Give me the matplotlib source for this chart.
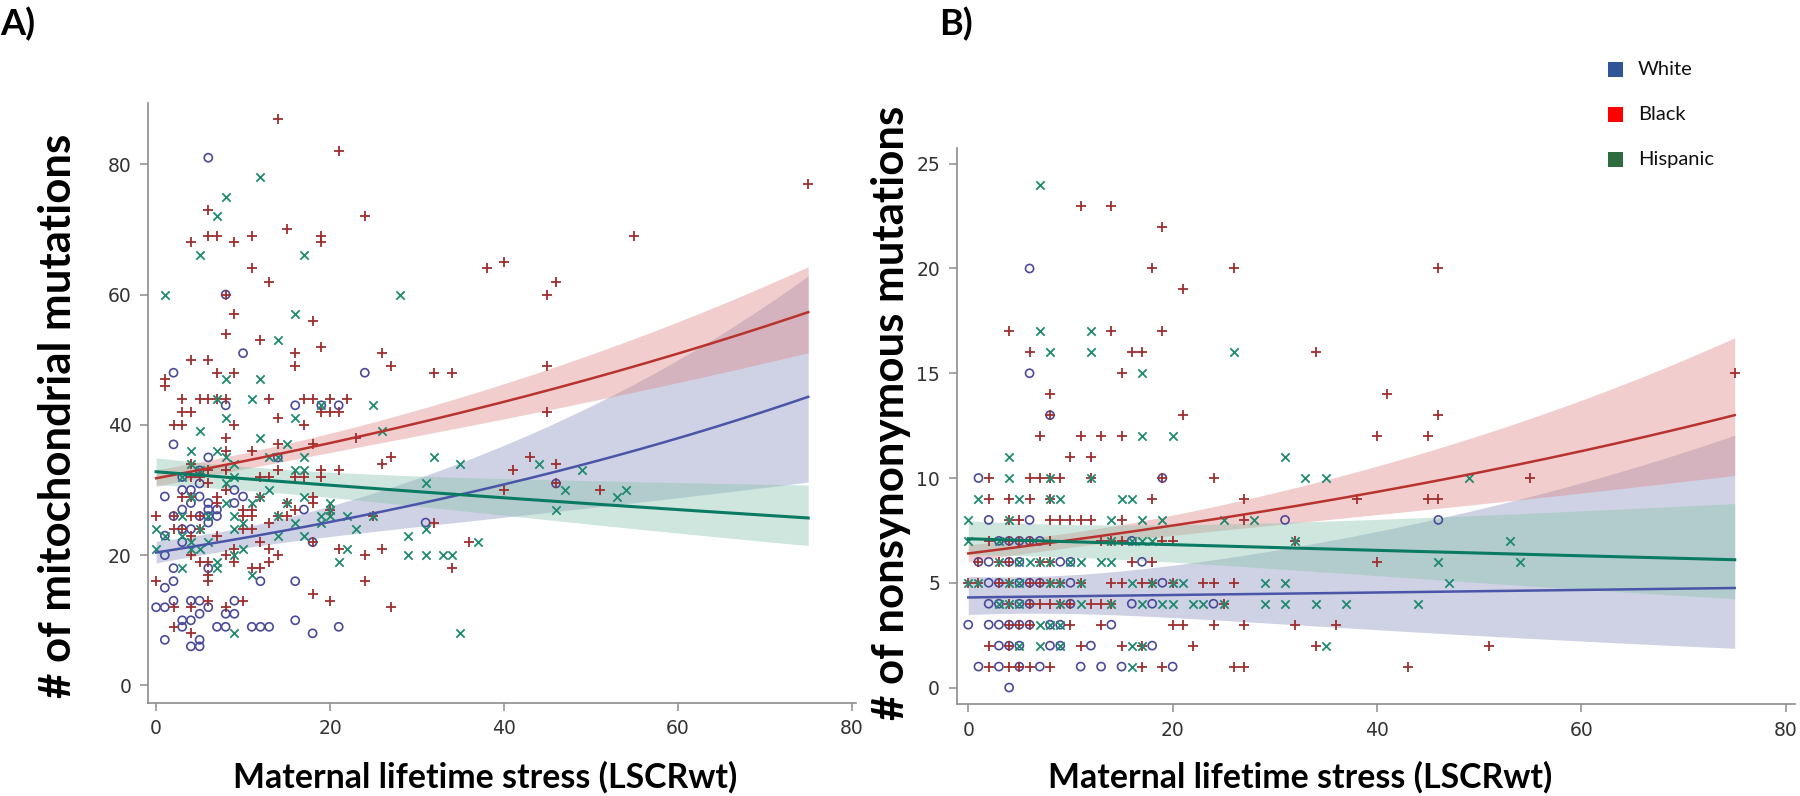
import numpy as np
import matplotlib
matplotlib.use("Agg")
import matplotlib.pyplot as plt
from matplotlib.patches import Rectangle
from matplotlib import font_manager

# ---------------- data: panel A (# of mitochondrial mutations) ----------------
a_white_x = [6, 2, 10, 24, 8, 8, 16, 19, 21, 2, 6, 14, 5, 3, 5, 3, 4, 9, 1, 5, 10, 4, 6, 9, 3, 6, 7, 17,
             2, 5, 6, 7, 6, 3, 4, 1, 3, 18, 1, 2, 6, 2, 12, 16, 1, 2, 4, 5, 9, 0, 1, 6, 5, 8, 9, 3, 4, 16,
             3, 7, 8, 11, 12, 13, 21, 18, 1, 5, 4, 5, 46, 31]
a_white_y = [81, 48, 51, 48, 60, 43, 43, 43, 43, 37, 35, 35, 33, 32, 31, 30, 30, 30, 29, 29, 29, 28, 28, 28,
             27, 27, 27, 27, 26, 26, 26, 26, 25, 24, 24, 23, 22, 22, 20, 18, 18, 16, 16, 16, 15, 13, 13, 13,
             13, 12, 12, 12, 11, 11, 11, 10, 10, 10, 9, 9, 9, 9, 9, 9, 9, 8, 7, 7, 6, 6, 31, 25]

a_black_x = [14, 21, 75, 6, 24, 6, 7, 11, 15, 19, 19, 4, 9, 55, 11, 13, 38, 40, 46, 45, 8, 9, 18, 8, 12,
             16, 16, 19, 26, 27, 4, 6, 45, 1, 1, 7, 9, 32, 34,
             3, 5, 6, 7, 8, 13, 17, 18, 20, 22,
             3, 4, 19, 20, 21, 14, 2, 3, 9, 17, 8, 23, 14, 18, 11, 8, 27, 26, 4, 8, 14, 19, 21, 6, 4, 12,
             13, 16, 17, 19, 5, 6, 8, 3, 4, 12, 18, 7, 7, 15, 18, 10, 11, 16, 20, 0, 2, 4, 5, 10, 11, 14,
             15, 25, 13, 2, 3, 5, 10, 11, 4, 7, 12, 18, 9, 13, 21, 26, 4, 8, 14, 24, 5, 6, 9, 13, 11, 12,
             6, 0, 6, 24, 18, 6, 10, 20, 2, 4, 8, 27, 2, 4,
             43, 41, 46, 40, 46, 51, 32, 36, 34, 45]
a_black_y = [87, 82, 77, 73, 72, 69, 69, 69, 70, 69, 68, 68, 68, 69, 64, 62, 64, 65, 62, 60, 60, 57, 56, 54,
             53, 51, 49, 52, 51, 49, 50, 50, 49, 47, 46, 48, 48, 48, 48,
             44, 44, 44, 44, 44, 44, 44, 44, 44, 44,
             42, 42, 42, 42, 42, 41, 40, 40, 40, 40, 38, 38, 37, 37, 36, 36, 35, 34, 34, 33, 33, 33, 33,
             33, 32, 32, 32, 32, 32, 32, 32, 31, 30, 29, 29, 29, 29, 29, 28, 28, 28, 27, 27, 27, 27, 26,
             26, 26, 26, 26, 26, 26, 26, 26, 25, 24, 24, 24, 24, 24, 23, 23, 22, 22, 21, 21, 21, 21, 20,
             20, 20, 20, 19, 19, 19, 19, 18, 18, 17, 16, 16, 16, 14, 13, 13, 13, 12, 12, 12, 12, 9, 8,
             35, 33, 34, 30, 31, 30, 25, 22, 18, 42]

a_hisp_x = [12, 8, 7, 5, 17, 1, 28, 16, 14, 8, 12, 7, 11, 19, 25, 8, 16, 5, 26, 12, 15, 4, 7, 8, 13, 14,
            17, 4, 9, 5, 16, 17, 3, 9, 8, 13, 4, 12, 17, 8, 11, 15, 20, 20, 3, 6, 9, 14, 19, 20, 22, 25,
            10, 16, 19, 0, 5, 9, 23, 1, 3, 14, 17, 29, 4, 6, 0, 4, 5, 10, 22, 9, 29, 7, 21, 3, 7, 11, 9,
            32, 35, 44, 49, 31, 47, 53, 54, 46, 31, 37, 31, 33, 34, 35]
a_hisp_y = [78, 75, 72, 66, 66, 60, 60, 57, 53, 47, 47, 44, 44, 43, 43, 41, 41, 39, 39, 38, 37, 36, 36, 35,
            35, 35, 35, 34, 34, 33, 33, 33, 32, 32, 31, 30, 29, 29, 29, 28, 28, 28, 28, 27, 26, 26, 26,
            26, 26, 26, 26, 26, 25, 25, 25, 24, 24, 24, 24, 23, 23, 23, 23, 23, 22, 22, 21, 21, 21, 21,
            21, 20, 20, 19, 19, 18, 18, 17, 8,
            35, 34, 34, 33, 31, 30, 29, 30, 27, 24, 22, 20, 20, 20, 8]

# ---------------- data: panel B (# of nonsynonymous mutations) ----------------
b_white_x = [6, 6, 8, 1, 19, 2, 6, 31, 46, 3, 4, 5, 6, 7, 16, 1, 2, 4, 5, 9, 10, 17, 2, 3, 5, 6, 7, 10, 19,
             2, 3, 5, 6, 10, 16, 18, 24, 0, 2, 3, 4, 5, 6, 8, 9, 14, 3, 4, 5, 8, 9, 12, 18, 1, 3, 5, 7, 11,
             13, 15, 20, 4]
b_white_y = [20, 15, 13, 10, 10, 8, 8, 8, 8, 7, 7, 7, 7, 7, 7, 6, 6, 6, 6, 6, 6, 6, 5, 5, 5, 5, 5, 5, 5,
             4, 4, 4, 4, 4, 4, 4, 4, 3, 3, 3, 3, 3, 3, 3, 3, 3, 2, 2, 2, 2, 2, 2, 2, 1, 1, 1, 1, 1, 1, 1, 1, 0]

b_black_x = [11, 14, 19, 18, 26, 46, 21, 4, 14, 19, 6, 16, 17, 34, 15, 75, 8, 41, 8, 21, 46, 7, 11, 13,
             15, 40, 45, 10, 12, 2, 6, 7, 8, 9, 12, 19, 24, 55, 2, 4, 6, 8, 18, 27, 38, 45, 46, 4, 5, 8,
             9, 10, 11, 12, 15, 27, 2, 4, 5, 6, 8, 13, 14, 15, 19, 20, 32, 1, 3, 4, 7, 8, 16, 18, 40, 0,
             1, 3, 4, 6, 7, 8, 9, 11, 14, 15, 17, 18, 20, 23, 24, 26, 4, 6, 7, 8, 9, 10, 12, 13, 14, 25,
             4, 5, 6, 10, 13, 20, 21, 24, 27, 32, 36, 2, 4, 11, 15, 17, 22, 34, 51, 2, 4, 5, 6, 8, 17,
             19, 26, 27, 43]
b_black_y = [23, 23, 22, 20, 20, 20, 19, 17, 17, 17, 16, 16, 16, 16, 15, 15, 14, 14, 13, 13, 13, 12, 12,
             12, 12, 12, 12, 11, 11, 10, 10, 10, 10, 10, 10, 10, 10, 10, 9, 9, 9, 9, 9, 9, 9, 9, 9, 8, 8,
             8, 8, 8, 8, 8, 8, 8, 7, 7, 7, 7, 7, 7, 7, 7, 7, 7, 7, 6, 6, 6, 6, 6, 6, 6, 6, 5, 5, 5, 5, 5,
             5, 5, 5, 5, 5, 5, 5, 5, 5, 5, 5, 5, 4, 4, 4, 4, 4, 4, 4, 4, 4, 4, 3, 3, 3, 3, 3, 3, 3, 3, 3,
             3, 3, 2, 2, 2, 2, 2, 2, 2, 2, 1, 1, 1, 1, 1, 1, 1, 1, 1, 1]

b_hisp_x = [7, 7, 12, 8, 12, 26, 17, 17, 20, 4, 31, 4, 8, 12, 33, 35, 49, 1, 5, 8, 9, 15, 16, 0, 4, 14,
            17, 19, 25, 28, 0, 3, 14, 16, 17, 18, 32, 53, 3, 5, 6, 7, 8, 10, 11, 13, 14, 46, 54, 0, 1, 4,
            5, 8, 9, 11, 16, 18, 20, 21, 29, 31, 47, 3, 4, 5, 9, 11, 14, 17, 19, 20, 22, 23, 25, 29, 31,
            34, 37, 44, 7, 8, 9, 5, 7, 9, 16, 17, 35, 16]
b_hisp_y = [24, 17, 17, 16, 16, 16, 15, 12, 12, 11, 11, 10, 10, 10, 10, 10, 10, 9, 9, 9, 9, 9, 9, 8, 8, 8,
            8, 8, 8, 8, 7, 7, 7, 7, 7, 7, 7, 7, 6, 6, 6, 6, 6, 6, 6, 6, 6, 6, 6, 5, 5, 5, 5, 5, 5, 5, 5,
            5, 5, 5, 5, 5, 5, 4, 4, 4, 4, 4, 4, 4, 4, 4, 4, 4, 4, 4, 4, 4, 4, 4, 3, 3, 3, 2, 2, 2, 2, 2,
            2, 1]

# ---------------- fitted log-linear models (level at 0, slope, CI params) ----------------
groups = ["White", "Black", "Hispanic"]
a_level = [20.4, 31.8, 32.8]
a_slope = [0.01034, 0.00785, -0.00325]
a_ci_w0 = [0.07, 0.036, 0.0575]
a_ci_xc = [8, 10, 10]
a_ci_k = [0.00512, 0.00168, 0.00262]

b_level = [4.3, 6.4, 7.1]
b_slope = [0.00133, 0.00945, -0.002025]
b_ci_w0 = [0.2, 0.05, 0.11]
b_ci_xc = [5, 10, 6]
b_ci_k = [0.01298, 0.00377, 0.00504]

# ---------------- styles ----------------
markers = ["o", "+", "x"]
pt_colors = ["#4a4a9a", "#9e2f2f", "#1f8a70"]
line_colors = ["#4a55a8", "#b8332e", "#0b7a62"]
band_colors = ["#8c95c0", "#e08a8a", "#8cc4b0"]
legend_colors = ["#2f5597", "#ff0000", "#2e6b3f"]

names = {f.name for f in font_manager.fontManager.ttflist}
tick_font = "Liberation Sans Narrow" if "Liberation Sans Narrow" in names else "DejaVu Sans"
label_font = "Lato" if "Lato" in names else "DejaVu Sans"

fig = plt.figure(figsize=(18, 7.96), dpi=100)
W, H = 1800, 796


def axes_px(l, r, t, b):
    return fig.add_axes([l / W, 1 - b / H, (r - l) / W, (b - t) / H])


axA = axes_px(148.3, 856, 103, 702.7)
axB = axes_px(956.7, 1795, 148, 704.3)


def draw(ax, xs, ys, level, slope, w0, xc, k):
    xf = np.linspace(0, max(max(x) for x in xs), 300)
    for i in range(3):
        fit = level[i] * np.exp(slope[i] * xf)
        w = np.sqrt(w0[i] ** 2 + (k[i] * (xf - xc[i])) ** 2)
        ax.fill_between(xf, fit * np.exp(-w), fit * np.exp(w), color=band_colors[i],
                        alpha=0.42, lw=0, zorder=1)
    for i in range(3):
        if markers[i] == "o":
            ax.scatter(xs[i], ys[i], s=34, marker="o", facecolors="none",
                       edgecolors=pt_colors[i], linewidths=1.2, zorder=2)
        else:
            ax.scatter(xs[i], ys[i], s=46 if markers[i] == "+" else 36, marker=markers[i],
                       color=pt_colors[i], linewidths=1.3, zorder=2)
    for i in range(3):
        fit = level[i] * np.exp(slope[i] * xf)
        ax.plot(xf, fit, color=line_colors[i], lw=2.2 if i == 2 else 1.8, zorder=3)


draw(axA, [a_white_x, a_black_x, a_hisp_x], [a_white_y, a_black_y, a_hisp_y],
     a_level, a_slope, a_ci_w0, a_ci_xc, a_ci_k)
draw(axB, [b_white_x, b_black_x, b_hisp_x], [b_white_y, b_black_y, b_hisp_y],
     b_level, b_slope, b_ci_w0, b_ci_xc, b_ci_k)

axA.set_xlim(-0.9, 80.5)
axA.set_ylim(-2.65, 89.4)
axA.set_xticks([0, 20, 40, 60, 80])
axA.set_yticks([0, 20, 40, 60, 80])
axB.set_xlim(-1.13, 80.9)
axB.set_ylim(-0.8, 25.75)
axB.set_xticks([0, 20, 40, 60, 80])
axB.set_yticks([0, 5, 10, 15, 20, 25])

for ax in (axA, axB):
    for s in ("top", "right"):
        ax.spines[s].set_visible(False)
    for s in ("left", "bottom"):
        ax.spines[s].set_color("#8c8c8c")
        ax.spines[s].set_linewidth(1.2)
    ax.tick_params(length=6, width=1.1, color="#8c8c8c", pad=6, labelsize=13.5,
                   labelcolor="#333333")
    for lab in ax.get_xticklabels() + ax.get_yticklabels():
        lab.set_family(tick_font)

# axis titles
fig.text(58 / W, 1 - 416 / H, "# of mitochondrial mutations", rotation=90, ha="center",
         va="center", fontsize=31.5, fontweight="bold", family=label_font)
fig.text(891 / W, 1 - 413 / H, "# of nonsynonymous mutations", rotation=90, ha="center",
         va="center", fontsize=31.5, fontweight="bold", family=label_font)
fig.text(485 / W, 1 - 777 / H, "Maternal lifetime stress (LSCRwt)", ha="center", va="center",
         fontsize=24.4, fontweight="bold", family=label_font)
fig.text(1300 / W, 1 - 777 / H, "Maternal lifetime stress (LSCRwt)", ha="center", va="center",
         fontsize=24.4, fontweight="bold", family=label_font)
fig.text(0 / W, 1 - 24 / H, "A)", ha="left", va="center", fontsize=26, fontweight="bold",
         family=label_font)
fig.text(939 / W, 1 - 24 / H, "B)", ha="left", va="center", fontsize=26, fontweight="bold",
         family=label_font)

# legend
leg_y = [69.2, 114.5, 159.5]
for i in range(3):
    fig.add_artist(Rectangle((1607.7 / W, 1 - (leg_y[i] + 7.5) / H), 15 / W, 15 / H,
                             transform=fig.transFigure, facecolor=legend_colors[i],
                             edgecolor="none"))
    fig.text(1637.7 / W, 1 - leg_y[i] / H, groups[i], ha="left", va="center", fontsize=14.5,
             family=label_font, color="#111111")

fig.savefig("out.png", dpi=100, facecolor="white")
